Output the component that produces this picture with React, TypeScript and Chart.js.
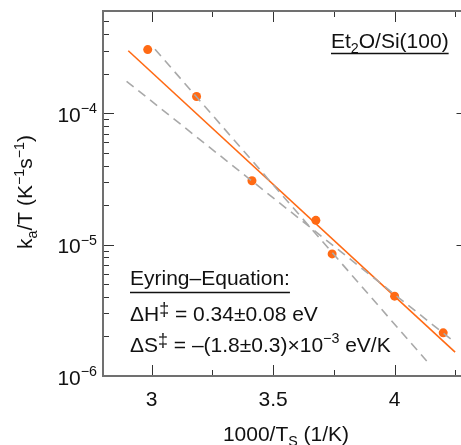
import React, { useEffect, useRef } from "react";
import { Chart, registerables } from "chart.js";

Chart.register(...registerables);

// ---- data ----
const pointX = [2.984, 3.185, 3.413, 3.676, 3.743, 4.0, 4.2];
const pointY = [3.05e-4, 1.34e-4, 3.06e-5, 1.53e-5, 8.5e-6, 4.05e-6, 2.13e-6];
const fitX = [2.904, 4.249];
const fitY = [2.99e-4, 1.52e-6];
const boundAX = [3.014, 4.132];
const boundAY = [3.07e-4, 1.3e-6];
const boundBX = [2.897, 4.239];
const boundBY = [1.75e-4, 1.86e-6];
const xMajorTicks = [3, 3.5, 4];
const xTickLabels = ["3", "3.5", "4"];
const xMinorTicks = [3.25, 3.75, 4.25];
const yDecadeExps = [-6, -5, -4];
const yTickLabelsBase = ["10", "10", "10"];
const yTickLabelsExp = ["\u22126", "\u22125", "\u22124"];
const xMin = 2.8;
const xMax = 4.3;
const yMin = 1e-6;
const yMax = 6e-4;

const ORANGE = "#ff6a14";
const GRAY = "#a9a9a9";
const AXIS = "#707070";
const TICK = "#333333";
const TEXT = "#111111";
const FAMILY = '"Liberation Sans", Arial, Helvetica, sans-serif';
const FS = 21;

type Seg = { t: string; s?: number; dy?: number };

function drawRich(
  ctx: CanvasRenderingContext2D,
  segs: Seg[],
  x: number,
  y: number,
  size: number,
  align: "left" | "right" | "center"
) {
  let total = 0;
  const widths: number[] = [];
  for (const sg of segs) {
    ctx.font = `${size * (sg.s ?? 1)}px ${FAMILY}`;
    const w = ctx.measureText(sg.t).width;
    widths.push(w);
    total += w;
  }
  let cx = align === "left" ? x : align === "right" ? x - total : x - total / 2;
  const start = cx;
  ctx.textAlign = "left";
  ctx.textBaseline = "alphabetic";
  segs.forEach((sg, i) => {
    ctx.font = `${size * (sg.s ?? 1)}px ${FAMILY}`;
    ctx.fillText(sg.t, cx, y + (sg.dy ?? 0));
    cx += widths[i];
  });
  return { start, end: cx };
}

const SUP = (t: string): Seg => ({ t, s: 0.68, dy: -8.5 });
const SUB = (t: string): Seg => ({ t, s: 0.68, dy: 5 });
const DAG: Seg = { t: "\u2021", s: 0.85, dy: -6 };

const axesPlugin = {
  id: "customAxes",
  afterDraw(chart: any) {
    const ctx: CanvasRenderingContext2D = chart.ctx;
    const { left, right, top, bottom } = chart.chartArea;
    const xs = chart.scales.x;
    const ys = chart.scales.y;
    ctx.save();

    // ticks
    ctx.strokeStyle = TICK;
    ctx.lineWidth = 1;
    const MAJ = 11;
    const MIN = 6;
    const line = (x1: number, y1: number, x2: number, y2: number) => {
      ctx.beginPath();
      ctx.moveTo(x1, y1);
      ctx.lineTo(x2, y2);
      ctx.stroke();
    };
    xMajorTicks.forEach((v) => {
      const px = Math.round(xs.getPixelForValue(v)) + 0.5;
      line(px, top, px, top + MAJ);
      line(px, bottom, px, bottom - MAJ);
    });
    xMinorTicks.forEach((v) => {
      const px = Math.round(xs.getPixelForValue(v)) + 0.5;
      line(px, top, px, top + MIN);
      line(px, bottom, px, bottom - MIN);
    });
    yDecadeExps.forEach((e) => {
      for (let m = 1; m <= 9; m++) {
        const v = m * Math.pow(10, e);
        if (v < yMin || v >= yMax) continue;
        const py = Math.round(ys.getPixelForValue(v)) + 0.5;
        const len = m === 1 ? MAJ : MIN;
        line(left, py, left + len, py);
        line(right, py, right - len, py);
      }
    });

    // axis lines
    ctx.strokeStyle = AXIS;
    ctx.lineWidth = 2;
    ctx.beginPath();
    ctx.moveTo(left, bottom);
    ctx.lineTo(left, top);
    ctx.lineTo(right, top);
    ctx.lineTo(right, bottom);
    ctx.closePath();
    ctx.stroke();

    ctx.fillStyle = TEXT;
    // x tick labels
    xMajorTicks.forEach((v, i) => {
      const px = xs.getPixelForValue(v);
      drawRich(ctx, [{ t: xTickLabels[i] }], px, bottom + 30, FS, "center");
    });
    // y tick labels
    yDecadeExps.forEach((e, i) => {
      const py = ys.getPixelForValue(Math.pow(10, e));
      drawRich(
        ctx,
        [{ t: yTickLabelsBase[i] }, SUP(yTickLabelsExp[i])],
        left - 6,
        py + 8.5,
        FS,
        "right"
      );
    });

    // x title
    drawRich(
      ctx,
      [{ t: "1000/T" }, SUB("S"), { t: " (1/K)" }],
      286,
      441,
      FS,
      "center"
    );
    // y title
    ctx.save();
    ctx.translate(32, 192);
    ctx.rotate(-Math.PI / 2);
    drawRich(
      ctx,
      [{ t: "k" }, SUB("a"), { t: "/T (K" }, SUP("\u22121"), { t: "s" }, SUP("\u22121"), { t: ")" }],
      0,
      0,
      FS,
      "center"
    );
    ctx.restore();

    // annotations
    ctx.strokeStyle = TEXT;
    ctx.lineWidth = 1.5;
    const t1 = drawRich(ctx, [{ t: "Et" }, SUB("2"), { t: "O/Si(100)" }], 331, 48, FS, "left");
    line(t1.start, 53.5, t1.end, 53.5);
    const t2 = drawRich(ctx, [{ t: "Eyring\u2013Equation:" }], 130, 285, FS, "left");
    line(t2.start, 292.5, t2.end, 292.5);
    drawRich(
      ctx,
      [{ t: "\u0394H" }, DAG, { t: " = 0.34\u00b10.08 eV" }],
      130,
      320.5,
      FS,
      "left"
    );
    drawRich(
      ctx,
      [
        { t: "\u0394S" },
        DAG,
        { t: " = \u2013(1.8\u00b10.3)\u00d710" },
        SUP("\u22123"),
        { t: " eV/K" },
      ],
      130,
      351.5,
      FS,
      "left"
    );

    ctx.restore();
  },
};

const toXY = (xs: number[], ys: number[]) => xs.map((x, i) => ({ x, y: ys[i] }));

export default function App() {
  const ref = useRef<HTMLCanvasElement | null>(null);
  useEffect(() => {
    if (!ref.current) return;
    const chart = new Chart(ref.current, {
      type: "scatter",
      data: {
        datasets: [
          {
            data: toXY(boundAX, boundAY),
            showLine: true,
            borderColor: GRAY,
            borderWidth: 1.6,
            borderDash: [9, 6],
            pointRadius: 0,
          },
          {
            data: toXY(boundBX, boundBY),
            showLine: true,
            borderColor: GRAY,
            borderWidth: 1.6,
            borderDash: [9, 6],
            pointRadius: 0,
          },
          {
            data: toXY(fitX, fitY),
            showLine: true,
            borderColor: ORANGE,
            borderWidth: 1.6,
            pointRadius: 0,
          },
          {
            data: toXY(pointX, pointY),
            showLine: false,
            pointRadius: 4.5,
            backgroundColor: ORANGE,
            borderWidth: 0,
          },
        ],
      },
      options: {
        responsive: false,
        animation: false,
        events: [],
        layout: { padding: { left: 103, top: 11, right: 12.5, bottom: 69 } },
        plugins: { legend: { display: false }, tooltip: { enabled: false } },
        scales: {
          x: { type: "linear", min: xMin, max: xMax, display: false },
          y: { type: "logarithmic", min: yMin, max: yMax, display: false },
        },
      },
      plugins: [axesPlugin],
    } as any);
    return () => chart.destroy();
  }, []);
  return (
    <div
      style={{
        position: "absolute",
        left: 0,
        top: 0,
        width: 461,
        height: 445,
        overflow: "hidden",
        background: "#fff",
      }}
    >
      <canvas ref={ref} width={480} height={445} style={{ display: "block" }} />
    </div>
  );
}
